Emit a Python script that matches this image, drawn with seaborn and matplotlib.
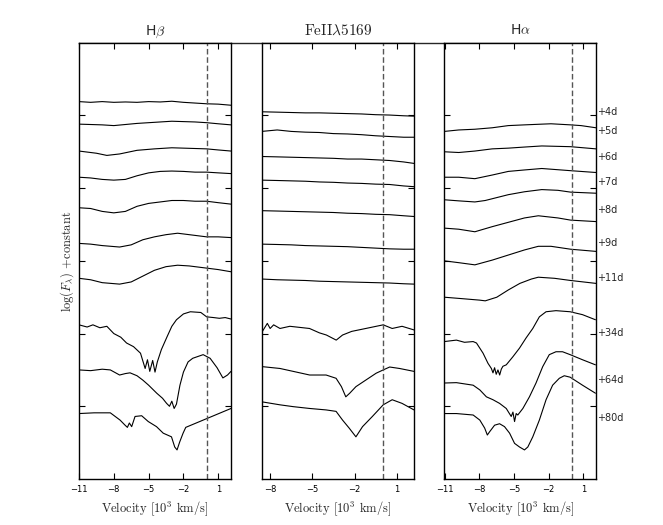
import matplotlib
matplotlib.use("Agg")
import matplotlib.pyplot as plt
import matplotlib.transforms as mtransforms
import seaborn as sns

# epochs (days after explosion), label heights on the right
epochs = ['+4d', '+5d', '+6d', '+7d', '+8d', '+9d', '+11d', '+34d', '+64d', '+80d']
label_y = [5.05, 4.79, 4.43, 4.09, 3.70, 3.25, 2.77, 2.01, 1.36, 0.84]

# ---- H beta : velocity [10^3 km/s] and log(F) + constant ----
hb_vel = [
    [-11, -10, -9, -8, -7, -6, -5, -4, -3, -2, -1, 0, 1, 2.1],
    [-11, -10, -9, -8, -7, -6, -5, -4, -3, -2, -1, 0, 1, 2.1],
    [-11, -10, -9.5, -8.6, -7.5, -6, -4.5, -3, -2, -1, 0, 1, 2.1],
    [-11, -10, -9, -8, -7, -6, -5, -4, -3, -2, -1, 0, 1, 2.1],
    [-11, -10, -9, -8, -7, -6, -5, -4, -3, -2, -1, 0, 1, 2.1],
    [-11, -10, -9, -7.5, -6.5, -5.5, -4.5, -3.5, -2.5, -1.5, -0.5, 0, 1, 2.1],
    [-11, -10, -9, -7.5, -6.5, -5.5, -4.5, -3.5, -2.5, -1.5, -0.5, 0, 1, 2.1],
    [-11, -10.3, -9.8, -9.2, -8.6, -8.0, -7.4, -6.9, -6.3, -5.7, -5.3, -5.1, -4.9, -4.65,
     -4.45, -4.25, -3.9, -3.4, -3.0, -2.6, -2.0, -1.4, -0.5, 0.0, 0.6, 1.1, 1.6, 2.1],
    [-11, -10, -9, -8.3, -7.5, -7.0, -6.6, -6.0, -5.5, -5.0, -4.3, -3.8, -3.45, -3.2,
     -3.0, -2.8, -2.6, -2.3, -2.0, -1.6, -1.2, -0.3, 0.3, 0.9, 1.4, 1.8, 2.1],
    [-11, -9.7, -8.3, -7.46, -7.03, -6.83, -6.66, -6.46, -6.17, -5.6, -5.03, -4.32,
     -3.74, -3.03, -2.75, -2.55, -2.32, -2.03, -1.8, 2.1],
]
hb_flux = [
    [5.19, 5.18, 5.19, 5.18, 5.185, 5.18, 5.19, 5.185, 5.195, 5.18, 5.17, 5.16, 5.155, 5.14],
    [4.88, 4.875, 4.87, 4.86, 4.875, 4.89, 4.90, 4.91, 4.92, 4.915, 4.91, 4.90, 4.885, 4.87],
    [4.51, 4.49, 4.48, 4.45, 4.47, 4.52, 4.54, 4.555, 4.55, 4.545, 4.54, 4.525, 4.51],
    [4.15, 4.14, 4.12, 4.11, 4.12, 4.17, 4.21, 4.23, 4.235, 4.23, 4.22, 4.22, 4.21, 4.20],
    [3.73, 3.72, 3.68, 3.66, 3.68, 3.75, 3.79, 3.81, 3.83, 3.83, 3.82, 3.82, 3.80, 3.78],
    [3.24, 3.23, 3.21, 3.19, 3.22, 3.29, 3.33, 3.36, 3.38, 3.36, 3.34, 3.33, 3.33, 3.32],
    [2.76, 2.74, 2.70, 2.68, 2.71, 2.79, 2.87, 2.92, 2.94, 2.93, 2.91, 2.90, 2.88, 2.85],
    [2.12, 2.09, 2.12, 2.08, 2.10, 2.00, 1.95, 1.87, 1.82, 1.73, 1.52, 1.64, 1.48, 1.63,
     1.47, 1.61, 1.78, 1.96, 2.10, 2.19, 2.27, 2.30, 2.29, 2.23, 2.22, 2.21, 2.22, 2.20],
    [1.50, 1.49, 1.51, 1.50, 1.43, 1.45, 1.46, 1.42, 1.36, 1.29, 1.18, 1.11, 1.04, 1.00,
     1.07, 0.97, 1.03, 1.29, 1.47, 1.61, 1.66, 1.71, 1.66, 1.53, 1.39, 1.43, 1.48],
    [0.90, 0.91, 0.91, 0.81, 0.74, 0.71, 0.77, 0.72, 0.86, 0.87, 0.79, 0.72,
     0.63, 0.58, 0.44, 0.40, 0.51, 0.63, 0.71, 0.97],
]

# ---- Fe II 5169 ----
fe_grid = [-8.6, -7.5, -6.5, -5.5, -4.5, -3.5, -2.5, -1.5, -0.5, 0.5, 1.5, 2.23]
fe_vel = [fe_grid] * 7 + [
    [-8.55, -8.2, -8.0, -7.75, -7.3, -6.6, -5.2, -4.5, -4.0, -3.3, -2.85, -2.2, -1.2,
     0.04, 0.68, 1.38, 2.23],
    [-8.55, -7.3, -6.36, -5.19, -4.02, -3.31, -2.93, -2.62, -2.34, -1.9, -1.2, -0.46,
     0.04, 0.5, 1.2, 2.23],
    [-8.55, -7.3, -6.36, -5.19, -4.02, -3.31, -2.85, -2.38, -1.9, -1.43, -0.73, 0.04,
     0.68, 1.38, 2.23],
]
fe_flux = [
    [5.05, 5.045, 5.04, 5.035, 5.035, 5.03, 5.025, 5.02, 5.01, 5.005, 4.995, 4.99],
    [4.78, 4.80, 4.78, 4.77, 4.765, 4.75, 4.745, 4.735, 4.72, 4.71, 4.70, 4.70],
    [4.435, 4.43, 4.425, 4.42, 4.415, 4.41, 4.40, 4.40, 4.39, 4.38, 4.36, 4.34],
    [4.11, 4.105, 4.10, 4.095, 4.085, 4.08, 4.07, 4.065, 4.055, 4.05, 4.03, 4.02],
    [3.69, 3.685, 3.68, 3.675, 3.67, 3.665, 3.655, 3.65, 3.64, 3.635, 3.62, 3.61],
    [3.23, 3.225, 3.22, 3.21, 3.205, 3.20, 3.195, 3.185, 3.175, 3.165, 3.16, 3.16],
    [2.75, 2.74, 2.735, 2.73, 2.72, 2.715, 2.71, 2.705, 2.70, 2.695, 2.685, 2.68],
    [2.03, 2.14, 2.07, 2.12, 2.07, 2.10, 2.07, 2.01, 1.98, 1.91, 1.98, 2.03, 2.07,
     2.12, 2.07, 2.10, 2.05],
    [1.545, 1.52, 1.48, 1.43, 1.43, 1.385, 1.27, 1.13, 1.18, 1.27, 1.36, 1.455,
     1.50, 1.54, 1.52, 1.48],
    [1.06, 1.02, 0.995, 0.97, 0.95, 0.93, 0.81, 0.70, 0.58, 0.72, 0.86, 1.02,
     1.09, 1.04, 0.95],
]

# ---- H alpha ----
ha_vel = [
    [-11.05, -9.8, -8.4, -6.9, -5.5, -4.1, -2.6, -1.8, -0.1, 0.8, 2.1],
    [-11.05, -9.8, -8.4, -6.9, -5.5, -4.1, -2.6, -0.1, 2.1],
    [-11.05, -9.8, -8.4, -6.9, -5.5, -4.1, -2.6, -0.1, 2.1],
    [-11.05, -9.8, -8.4, -7.5, -5.5, -4.1, -2.6, -1.2, -0.1, 2.1],
    [-11.05, -9.8, -8.4, -6.9, -5.5, -4.1, -2.9, -1.2, -0.1, 2.1],
    [-11.05, -9.8, -8.4, -6.9, -5.5, -4.1, -2.9, -1.8, -0.1, 2.1],
    [-11.05, -9.5, -8.0, -7.5, -6.5, -5.5, -4.5, -3.5, -2.9, -1.5, -0.1, 2.1],
    [-11.05, -10.0, -9.3, -8.55, -8.26, -7.69, -7.26, -6.97, -6.83, -6.69, -6.55, -6.4,
     -6.25, -6.11, -5.97, -5.68, -5.11, -4.53, -3.96, -3.38, -2.81, -2.23, -1.37, -0.14,
     0.93, 2.05],
    [-11.05, -10.0, -8.55, -7.97, -7.4, -6.83, -6.26, -5.68, -5.25, -5.1, -4.96, -4.82,
     -4.68, -4.24, -3.67, -3.1, -2.52, -1.95, -1.37, -0.8, -0.14, 0.93, 2.05],
    [-11.05, -10.0, -8.55, -7.97, -7.55, -7.32, -7.12, -6.69, -6.26, -5.83, -5.39, -4.96,
     -4.53, -4.1, -3.81, -3.38, -2.81, -2.23, -1.66, -1.08, -0.65, -0.14, 0.93, 2.05],
]
ha_flux = [
    [4.78, 4.80, 4.81, 4.83, 4.86, 4.87, 4.88, 4.885, 4.87, 4.86, 4.83],
    [4.50, 4.49, 4.51, 4.54, 4.55, 4.565, 4.58, 4.57, 4.54],
    [4.15, 4.15, 4.13, 4.18, 4.23, 4.25, 4.27, 4.24, 4.215],
    [3.84, 3.825, 3.81, 3.83, 3.91, 3.95, 3.98, 3.97, 3.945, 3.93],
    [3.45, 3.435, 3.40, 3.47, 3.53, 3.59, 3.62, 3.59, 3.56, 3.54],
    [3.00, 2.975, 2.945, 3.01, 3.08, 3.15, 3.20, 3.20, 3.16, 3.13],
    [2.50, 2.48, 2.46, 2.45, 2.50, 2.60, 2.69, 2.75, 2.775, 2.76, 2.73, 2.69],
    [1.89, 1.91, 1.88, 1.89, 1.87, 1.73, 1.59, 1.52, 1.46, 1.53, 1.44, 1.50, 1.43,
     1.51, 1.55, 1.57, 1.68, 1.80, 1.94, 2.07, 2.23, 2.30, 2.315, 2.30, 2.26, 2.19],
    [1.32, 1.325, 1.29, 1.225, 1.13, 1.09, 1.04, 0.97, 0.86, 0.92, 0.79, 0.90, 0.88,
     0.97, 1.13, 1.32, 1.545, 1.71, 1.75, 1.75, 1.71, 1.64, 1.57],
    [0.90, 0.90, 0.88, 0.81, 0.70, 0.605, 0.65, 0.74, 0.76, 0.72, 0.63, 0.49, 0.44,
     0.40, 0.44, 0.58, 0.81, 1.09, 1.29, 1.385, 1.42, 1.40, 1.29, 1.18],
]

panels = [
    ('H$\\beta$', hb_vel, hb_flux, (-11, 2.1), [-11, -8, -5, -2, 1], 'DejaVu Sans', 10),
    ('$\\mathrm{FeII}\\lambda5169$', fe_vel, fe_flux, (-8.6, 2.23), [-8, -5, -2, 1], 'cmr10', 11),
    ('H$\\alpha$', ha_vel, ha_flux, (-11.05, 2.1), [-11, -8, -5, -2, 1], 'DejaVu Sans', 10),
]

sns.set_style('ticks')
plt.rcParams['font.family'] = ['DejaVu Sans']
plt.rcParams['mathtext.fontset'] = 'cm'
plt.rcParams['axes.linewidth'] = 1.0

W, H = 663, 525
fig = plt.figure(figsize=(W / 100, H / 100), dpi=100)
bottom, top = 479, 42.7
lefts = [(79, 231), (261.7, 414), (444.3, 596)]

# thin frame line joining the three panels along the top
bg = fig.add_axes([79 / W, (H - bottom) / H, (596 - 79) / W, (bottom - top) / H], zorder=0)
bg.set_xticks([])
bg.set_yticks([])
bg.patch.set_alpha(0)
for s in ['left', 'right', 'bottom']:
    bg.spines[s].set_visible(False)

axes = []
for (x0, x1), (title, vels, fluxes, xlim, xticks, tfont, tsize) in zip(lefts, panels):
    ax = fig.add_axes([x0 / W, (H - bottom) / H, (x1 - x0) / W, (bottom - top) / H], zorder=1)
    for v, f in zip(vels, fluxes):
        sns.lineplot(x=v, y=f, ax=ax, color='black', linewidth=0.8, estimator=None, sort=False)
    ax.axvline(0, color='#555555', linestyle='--', linewidth=1.0, dashes=(4, 2))
    ax.set_xlim(*xlim)
    ax.set_ylim(0, 6)
    ax.set_xticks(xticks)
    ax.set_xticklabels([str(t).replace('-', '\u2212') for t in xticks])
    ax.set_yticks([1, 2, 3, 4, 5])
    ax.set_yticklabels([])
    ax.tick_params(direction='in', top=True, right=True, length=4, width=0.8,
                   labelsize=6, colors='black', pad=4)
    ax.set_title(title, fontsize=tsize, pad=6, family=tfont)
    ax.set_xlabel('Velocity [10$^3$ km/s]', fontsize=9, family='cmr10', labelpad=4)
    ax.set_ylabel('')
    for s in ax.spines.values():
        s.set_color('black')
    axes.append(ax)

axes[0].set_ylabel('$\\log(F_\\lambda)$ +constant', fontsize=9, family='cmr10', labelpad=-2)

# epoch labels to the right of the last panel
trans = mtransforms.blended_transform_factory(axes[2].transAxes, axes[2].transData)
for lab, y in zip(epochs, label_y):
    axes[2].text(1.01, y, lab, transform=trans, fontsize=7, ha='left', va='center')

fig.savefig('out.png', dpi=100)
